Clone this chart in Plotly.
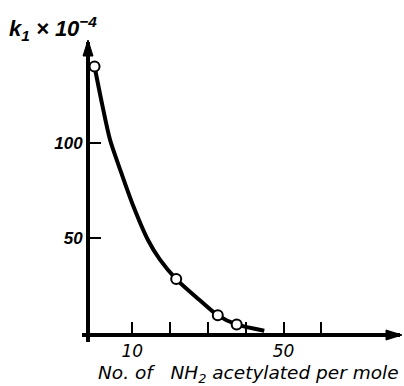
import plotly.graph_objects as go

# Smooth curve
curve_x = [0, 2.0, 4.1, 7.1, 10.3, 14.1, 17.3, 21.6, 27.7, 32.6, 37.6, 44.9]
curve_y = [140.3, 120.5, 101.7, 84.2, 66.6, 49.1, 38.6, 28.4, 17.5, 9.3, 4.5, 1.2]

# Measured points (open circles)
pts_x = [0, 21.6, 32.6, 37.6]
pts_y = [140.3, 28.4, 9.3, 4.5]

x_tickvals = [10, 20, 30, 40, 50, 60]
x_ticktext = ["10", "", "", "", "50", ""]
y_tickvals = [50, 100]
y_ticktext = ["50", "100"]

x_title = "No. of&nbsp;&nbsp; NH<sub>2</sub> acetylated per mole"
y_title = "k<sub>1</sub> × 10<sup>−4</sup>"

XMIN, XMAX = -1.2, 80.8
YMIN, YMAX = 0, 153.2

L, R, T, B = 90, 4, 42, 53
W, H = 404, 386
PW, PH = W - L - R, H - T - B

fig = go.Figure()
fig.add_trace(go.Scatter(x=curve_x, y=curve_y, mode="lines",
                         line=dict(color="black", width=4, shape="spline", smoothing=0.8),
                         hoverinfo="skip", showlegend=False))
fig.add_trace(go.Scatter(x=pts_x, y=pts_y, mode="markers",
                         marker=dict(symbol="circle", size=10, color="white",
                                     line=dict(color="black", width=2)),
                         showlegend=False, cliponaxis=False))

fig.update_layout(
    width=W, height=H,
    margin=dict(l=L, r=R, t=T, b=B),
    paper_bgcolor="white", plot_bgcolor="white",
    font=dict(family="Liberation Sans, Arial, sans-serif", color="black"),
    xaxis=dict(range=[XMIN, XMAX], showgrid=False, zeroline=False,
               showline=True, linecolor="black", linewidth=4,
               ticks="inside", ticklen=11, tickwidth=2, tickcolor="black",
               tickvals=x_tickvals, ticktext=x_ticktext,
               tickfont=dict(family="DejaVu Sans", size=17, style="italic", color="black")),
    yaxis=dict(range=[YMIN, YMAX], showgrid=False, zeroline=False,
               showline=True, linecolor="black", linewidth=4,
               ticks="inside", ticklen=11, tickwidth=2, tickcolor="black",
               tickvals=y_tickvals, ticktext=y_ticktext,
               tickfont=dict(size=17, style="italic", weight="bold", color="black")),
)

hx = 1 / PW
hy = 1 / PH
yc = -2 * hy
xc = -2 * hx
# short overhangs of the axis lines past the origin
fig.add_shape(type="line", xref="paper", yref="paper",
              x0=-8 * hx, x1=0, y0=yc, y1=yc, line=dict(color="black", width=4))
fig.add_shape(type="line", xref="paper", yref="paper",
              x0=xc, x1=xc, y0=0, y1=-9 * hy, line=dict(color="black", width=4))
# axis arrowheads
fig.add_shape(type="path", xref="paper", yref="paper",
              path=f"M {1 + 2*hx} {yc} L {1 - 14*hx} {yc + 5*hy} L {1 - 14*hx} {yc - 5*hy} Z",
              fillcolor="black", line=dict(color="black", width=1))
fig.add_shape(type="path", xref="paper", yref="paper",
              path=f"M {xc} {1 + 2*hy} L {xc - 5*hx} {1 - 14*hy} L {xc + 5*hx} {1 - 14*hy} Z",
              fillcolor="black", line=dict(color="black", width=1))

# titles
fig.add_annotation(x=(248 - L) / PW, y=(H - B - 374) / PH, xref="paper", yref="paper",
                   xanchor="center", yanchor="middle", showarrow=False,
                   text=x_title, font=dict(family="DejaVu Sans", size=18.5, style="italic", color="black"))
fig.add_annotation(x=(7 - L) / PW, y=(H - B - 29) / PH, xref="paper", yref="paper",
                   xanchor="left", yanchor="middle", showarrow=False,
                   text=y_title, font=dict(size=22, style="italic", weight="bold", color="black"))

fig.write_html("out.html", post_script="document.body.style.margin='0';",
               config={"displayModeBar": False})
